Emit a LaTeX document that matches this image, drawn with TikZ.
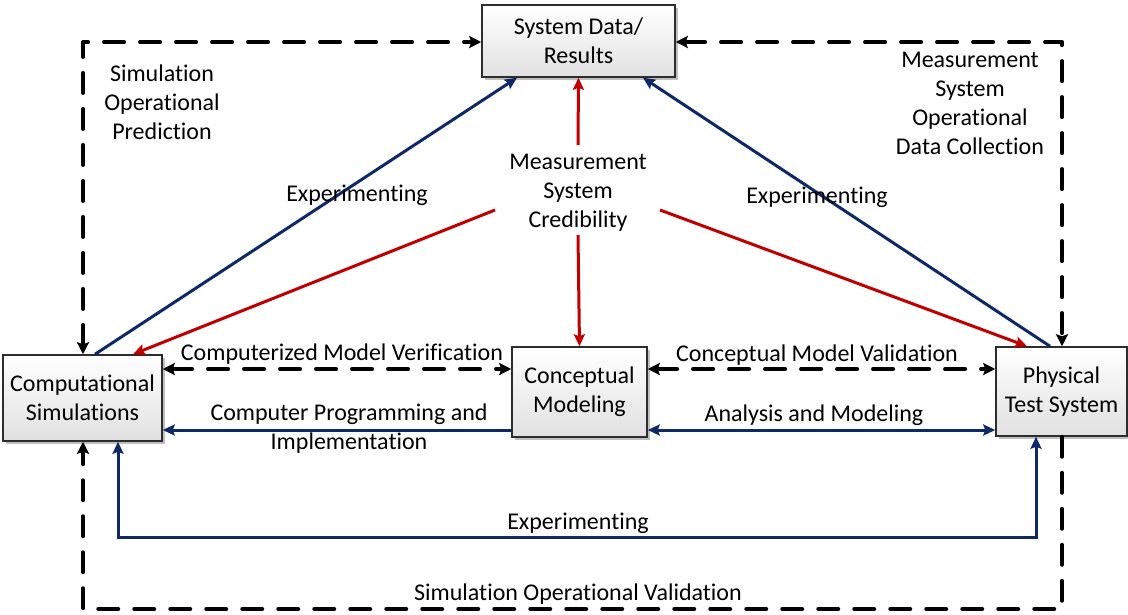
\documentclass[tikz,border=0pt]{standalone}
\usepackage{fontspec}
\setmainfont{Carlito}[Ligatures={NoCommon}]
\usetikzlibrary{arrows.meta,shadows,calc}
\definecolor{navy}{RGB}{14,40,104}
\definecolor{dred}{RGB}{192,0,0}
\definecolor{boxedge}{RGB}{45,45,45}
\newcommand{\lblfont}{\fontsize{24}{29}\selectfont}
\tikzset{
  box/.style={draw=boxedge, line width=1.5pt, top color=white, bottom color=black!12,
    drop shadow={shadow xshift=2.5pt, shadow yshift=-2.5pt, fill=black!50, opacity=0.5},
    inner sep=0pt, align=center, font=\lblfont},
  lbl/.style={align=center, font=\lblfont, inner sep=1pt},
  dsh/.style={line width=4pt, dash pattern=on 20pt off 16pt, line cap=round, line join=round, black},
  ktip/.style={-{Stealth[length=12pt,width=12pt,inset=2pt]}},
  kboth/.style={{Stealth[length=12pt,width=12pt,inset=2pt]}-{Stealth[length=12pt,width=12pt,inset=2pt]}},
  blu/.style={line width=3pt, navy},
  btip/.style={-{Stealth[length=12pt,width=11pt,inset=2pt]}},
  bboth/.style={{Stealth[length=12pt,width=11pt,inset=2pt]}-{Stealth[length=12pt,width=11pt,inset=2pt]}},
  rd/.style={line width=3pt, dred, -{Stealth[length=12pt,width=11pt,inset=2pt]}},
}
\begin{document}
\begin{tikzpicture}[x=1pt,y=-1pt]
\useasboundingbox (0,0) rectangle (1128,614);
% boxes
\node[box, minimum width=193pt, minimum height=72pt] (sys) at (578.5,41) {System Data/\\Results};
\node[box, minimum width=159pt, minimum height=86pt] (comp) at (82.5,398) {Computational\\Simulations};
\node[box, minimum width=135pt, minimum height=90pt] (conc) at (579.5,392) {Conceptual\\Modeling};
\node[box, minimum width=131pt, minimum height=89pt] (phys) at (1061.5,391.5) {Physical\\Test System};
% corner coordinates
\coordinate (tl) at (83,42);
\coordinate (tr) at (1062,42);
\coordinate (bl) at (83,609);
\coordinate (br) at (1062,609);
\coordinate (mid) at (0,369);
\coordinate (blo) at (0,430);
\coordinate (el) at (118,537);
\coordinate (er) at (1036,537);
% dashed black
\draw[dsh, kboth] (comp.north -| tl) -- (tl) -- (sys.west |- tl);
\draw[dsh, kboth] (sys.east |- tr) -- (tr) -- (phys.north -| tr);
\draw[dsh, ktip] (phys.south -| br) -- (br) -- (bl) -- (comp.south -| bl);
\draw[dsh, kboth] (comp.east |- mid) -- (conc.west |- mid);
\draw[dsh, kboth] (conc.east |- mid) -- (phys.west |- mid);
% navy
\draw[blu, btip] (conc.west |- blo) -- (comp.east |- blo);
\draw[blu, bboth] (conc.east |- blo) -- (phys.west |- blo);
\draw[blu, bboth] (comp.south -| el) -- (el) -- (er) -- (phys.south -| er);
\coordinate (cs1) at (95,0);
\coordinate (sd1) at (517,0);
\coordinate (ps1) at (1050,0);
\coordinate (sd2) at (643,0);
\draw[blu, btip] (comp.north -| cs1) -- (sys.south -| sd1);
\draw[blu, btip] (phys.north -| ps1) -- (sys.south -| sd2);
% labels
\node[lbl] (mcred) at (578,192.5) {Measurement\\System\\Credibility};
\node[lbl] (simpred) at (162,102) {Simulation\\Operational\\Prediction};
\node[lbl] (mdata) at (970,103) {Measurement\\System\\Operational\\Data Collection};
\node[lbl] (val) at (578,594) {Simulation Operational Validation};
\node[lbl] (cmv) at (342,354) {Computerized Model Verification};
\node[lbl] (cmval) at (817,355) {Conceptual Model Validation};
\node[lbl] (exp1) at (357,195) {Experimenting};
\node[lbl] (exp2) at (817,197) {Experimenting};
\node[lbl] (exp3) at (578,523) {Experimenting};
\node[lbl] (anm) at (814,415) {Analysis and Modeling};
\node[lbl] (cpi) at (349,429) {Computer Programming and\\Implementation};
% red
\coordinate (rl) at (495,210);
\coordinate (rr) at (660,210);
\coordinate (rc) at (133,0);
\coordinate (rp) at (1027,0);
\draw[rd] (578,145) -- (sys.south);
\draw[rd] (578,235) -- (conc.north);
\draw[rd] (rl) -- (comp.north -| rc);
\draw[rd] (rr) -- (phys.north -| rp);
\end{tikzpicture}
\end{document}
